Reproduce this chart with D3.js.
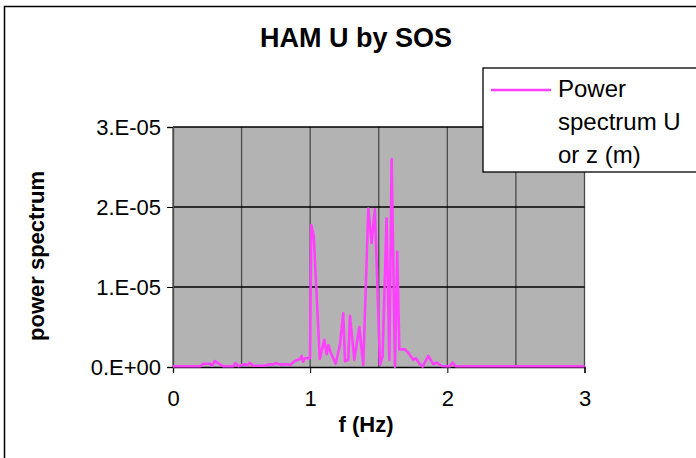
<!DOCTYPE html>
<html>
<head>
<meta charset="utf-8">
<script src="https://cdn.jsdelivr.net/npm/d3@7"></script>
<style>
  body { margin: 0; background: #fff; }
  svg { display: block; font-family: "Liberation Sans", Arial, sans-serif; }
</style>
</head>
<body>
<div id="chart"></div>
<script>
// frequency (Hz) and power spectrum values (units 1e-6)
const freq = [0.00, 0.20, 0.22, 0.27, 0.285, 0.305, 0.33, 0.365, 0.44, 0.455, 0.475, 0.525, 0.54, 0.56, 0.585,
  0.67, 0.705, 0.73, 0.75, 0.78, 0.83, 0.853, 0.889, 0.926, 0.938, 0.948, 0.962, 0.999,
  1.008, 1.026, 1.07, 1.103, 1.12, 1.132, 1.152, 1.186, 1.217, 1.241, 1.254, 1.278, 1.29, 1.322, 1.358, 1.387,
  1.424, 1.448, 1.472, 1.509, 1.528, 1.557, 1.577, 1.594, 1.618, 1.635, 1.65, 1.691, 1.723, 1.751, 1.771, 1.795,
  1.82, 1.861, 1.897, 1.922, 1.958, 1.99, 2.02, 2.039, 2.06, 3.00];
const power = [0.1, 0.1, 0.4, 0.4, 0.15, 0.75, 0.45, 0.1, 0.1, 0.5, 0.1, 0.35, 0.2, 0.5, 0.15,
  0.15, 0.35, 0.3, 0.5, 0.3, 0.35, 0.25, 0.75, 1.0, 1.4, 0.65, 1.1, 1.1,
  17.75, 16.4, 1.0, 3.4, 1.6, 2.75, 1.7, 0.4, 2.75, 6.7, 0.7, 0.9, 6.4, 0.9, 5.0, 0.25,
  19.8, 15.5, 19.7, 0.25, 1.3, 18.6, 0.9, 26.0, 0.04, 14.4, 2.2, 2.2, 1.6, 0.9, 1.1, 0.45,
  0.04, 1.4, 0.35, 0.55, 0.12, 0.1, 0.1, 0.55, 0.1, 0.1];

const xTicks = [0, 1, 2, 3];
const xGrid = [0.5, 1, 1.5, 2, 2.5, 3];
const yTicks = [0, 1e-5, 2e-5, 3e-5];
const yTickLabels = ["0.E+00", "1.E-05", "2.E-05", "3.E-05"];

const W = 696, H = 458;
const plot = { left: 173, right: 584.5, top: 127, bottom: 367 };

const svg = d3.select("#chart").append("svg")
    .attr("width", W)
    .attr("height", H);

// chart frame
svg.append("rect")
    .attr("x", 4.5).attr("y", 6.5)
    .attr("width", 720).attr("height", 480)
    .attr("fill", "#fff")
    .attr("stroke", "#000")
    .attr("stroke-width", 1.5);

const x = d3.scaleLinear().domain([0, 3]).range([plot.left, plot.right]);
const y = d3.scaleLinear().domain([0, 3e-5]).range([plot.bottom, plot.top]);

// plot area
svg.append("rect")
    .attr("x", plot.left).attr("y", plot.top)
    .attr("width", plot.right - plot.left)
    .attr("height", plot.bottom - plot.top)
    .attr("fill", "#b3b3b3");

// vertical grid lines
svg.append("g")
    .selectAll("line")
    .data([0].concat(xGrid))
    .join("line")
    .attr("x1", d => x(d)).attr("x2", d => x(d))
    .attr("y1", plot.top).attr("y2", plot.bottom)
    .attr("stroke", "#4a4a4a")
    .attr("stroke-width", 1.3);

// horizontal grid lines
svg.append("g")
    .selectAll("line")
    .data(yTicks.slice(1))
    .join("line")
    .attr("x1", plot.left).attr("x2", plot.right)
    .attr("y1", d => y(d)).attr("y2", d => y(d))
    .attr("stroke", "#000")
    .attr("stroke-width", 1.3);

// axes
const xAxis = svg.append("g")
    .attr("transform", `translate(0,${plot.bottom})`)
    .call(d3.axisBottom(x).tickValues(xTicks).tickSize(6).tickPadding(17).tickFormat(d3.format("d")));
xAxis.select(".domain").attr("stroke", "#000").attr("stroke-width", 1.3);
xAxis.selectAll(".tick line").attr("stroke", "#000");
xAxis.selectAll("text").attr("font-size", 22).attr("fill", "#000");

const yAxis = svg.append("g")
    .attr("transform", `translate(${plot.left},0)`)
    .call(d3.axisLeft(y).tickValues(yTicks).tickSize(6).tickPadding(6)
        .tickFormat((d, i) => yTickLabels[i]));
yAxis.select(".domain").attr("stroke", "#4a4a4a").attr("stroke-width", 1.3);
yAxis.selectAll(".tick line").attr("stroke", "#000");
yAxis.selectAll("text").attr("font-size", 22).attr("fill", "#000");

// series
const line = d3.line()
    .x((d, i) => x(freq[i]))
    .y(d => y(d * 1e-6));

svg.append("path")
    .datum(power)
    .attr("d", line)
    .attr("fill", "none")
    .attr("stroke", "#ff40ff")
    .attr("stroke-width", 2.6)
    .attr("stroke-linejoin", "round");

// titles
svg.append("text")
    .attr("x", 356).attr("y", 47)
    .attr("text-anchor", "middle")
    .attr("font-size", 27)
    .attr("font-weight", "bold")
    .text("HAM U by SOS");

svg.append("text")
    .attr("x", 366).attr("y", 432)
    .attr("text-anchor", "middle")
    .attr("font-size", 22)
    .attr("font-weight", "bold")
    .text("f (Hz)");

svg.append("text")
    .attr("transform", "translate(44,256) rotate(-90)")
    .attr("text-anchor", "middle")
    .attr("font-size", 22)
    .attr("font-weight", "bold")
    .text("power spectrum");

// legend
const legend = svg.append("g");
legend.append("rect")
    .attr("x", 483).attr("y", 68)
    .attr("width", 240).attr("height", 104)
    .attr("fill", "#fff")
    .attr("stroke", "#000")
    .attr("stroke-width", 1.3);
legend.append("line")
    .attr("x1", 491).attr("x2", 551)
    .attr("y1", 90).attr("y2", 90)
    .attr("stroke", "#ff40ff")
    .attr("stroke-width", 2.5);
legend.selectAll("text.lab")
    .data(["Power", "spectrum U", "or z (m)"])
    .join("text")
    .attr("class", "lab")
    .attr("x", 558)
    .attr("y", (d, i) => 97 + i * 33)
    .attr("font-size", 24)
    .text(d => d);
</script>
</body>
</html>
